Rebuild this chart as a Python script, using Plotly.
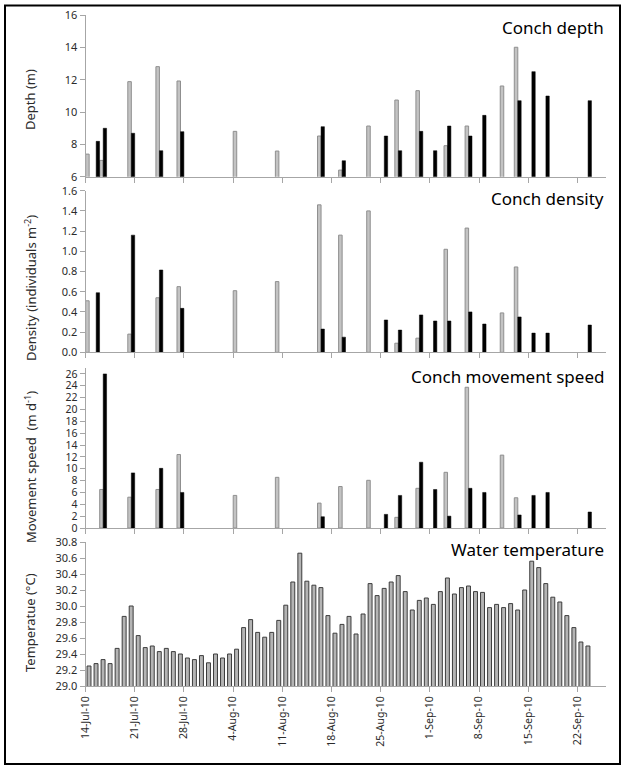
import plotly.graph_objects as go
import pandas as pd

# ---------------- data ----------------
sample_dates = ["2010-07-14", "2010-07-15", "2010-07-16", "2010-07-20", "2010-07-24",
                "2010-07-27", "2010-08-04", "2010-08-10", "2010-08-16", "2010-08-19",
                "2010-08-23", "2010-08-25", "2010-08-27", "2010-08-30", "2010-09-01",
                "2010-09-03", "2010-09-06", "2010-09-08", "2010-09-11", "2010-09-13",
                "2010-09-15", "2010-09-17", "2010-09-23"]

depth_gray = [7.40, None, 7.01, 11.89, 12.82, 11.93, 8.81, 7.59, 8.52, 6.41,
              9.14, None, 10.75, 11.33, None, 7.92, 9.14, None, 11.62, 14.02,
              None, None, None]
depth_black = [None, 8.19, 9.00, 8.69, 7.61, 8.79, None, None, 9.10, 6.99,
               None, 8.52, 7.61, 8.81, 7.61, 9.14, 8.52, 9.80, None, 10.71,
               12.51, 11.00, 10.71]

density_gray = [0.51, None, None, 0.18, 0.54, 0.65, 0.61, 0.70, 1.46, 1.16,
                1.40, None, 0.09, 0.14, None, 1.02, 1.23, None, 0.39, 0.845,
                None, None, None]
density_black = [None, 0.59, None, 1.16, 0.815, 0.435, None, None, 0.23, 0.15,
                 None, 0.32, 0.22, 0.37, 0.31, 0.31, 0.40, 0.28, None, 0.35,
                 0.19, 0.19, 0.27]

speed_gray = [None, None, 6.5, 5.2, 6.5, 12.4, 5.5, 8.55, 4.2, 7.0,
              8.05, None, 1.8, 6.7, None, 9.4, 23.75, None, 12.3, 5.1,
              None, None, None]
speed_black = [None, None, 26.0, 9.3, 10.07, 6.0, None, None, 1.9, None,
               None, 2.3, 5.5, 11.1, 6.5, 2.0, 6.7, 6.0, None, 2.2,
               5.5, 6.0, 2.7]

temp_start = "2010-07-14"
temperature = [29.25, 29.28, 29.33, 29.28, 29.47, 29.87, 30.00, 29.63, 29.48, 29.50,
               29.43, 29.47, 29.43, 29.40, 29.35, 29.33, 29.38, 29.29, 29.40, 29.35,
               29.40, 29.46, 29.73, 29.83, 29.67, 29.61, 29.67, 29.82, 30.01, 30.30,
               30.66, 30.31, 30.26, 30.23, 29.88, 29.66, 29.77, 29.87, 29.65, 29.90,
               30.28, 30.13, 30.22, 30.30, 30.38, 30.18, 29.95, 30.07, 30.10, 30.02,
               30.18, 30.35, 30.15, 30.23, 30.25, 30.18, 30.17, 29.98, 30.02, 29.98,
               30.03, 29.95, 30.20, 30.56, 30.48, 30.28, 30.11, 30.05, 29.88, 29.73,
               29.55, 29.50]
temp_dates = pd.date_range(temp_start, periods=len(temperature), freq="D")

tick_dates = ["2010-07-14", "2010-07-21", "2010-07-28", "2010-08-04", "2010-08-11",
              "2010-08-18", "2010-08-25", "2010-09-01", "2010-09-08", "2010-09-15",
              "2010-09-22"]
tick_labels = ["14-Jul-10", "21-Jul-10", "28-Jul-10", "4-Aug-10", "11-Aug-10",
               "18-Aug-10", "25-Aug-10", "1-Sep-10", "8-Sep-10", "15-Sep-10",
               "22-Sep-10"]

panel_titles = ["Conch depth", "Conch density", "Conch movement speed", "Water temperature"]
y_titles = ["Depth (m)", "Density (individuals m<sup>-2</sup>)",
            "Movement speed  (m d<sup>-1</sup>)", "Temperatue (°C)"]

# ---------------- layout helpers ----------------
W, H = 624, 766
FONT = "Noto Sans"
DAY = 86400000
X_RANGE = ["2010-07-14", "2010-09-26"]
x_dom = [85.5 / W, 605.5 / W]

def ydom(top_px, bot_px):
    return [1 - bot_px / H, 1 - top_px / H]

panels = [
    dict(dom=ydom(15.3, 176.7), rng=[6, 16], tickvals=list(range(6, 17, 2)), fmt="d", fs=11),
    dict(dom=ydom(190.7, 352.3), rng=[0, 1.6], tickvals=[i * 0.2 for i in range(9)], fmt=".1f", fs=11),
    dict(dom=ydom(368, 528), rng=[0, 27], tickvals=list(range(0, 27, 2)), fmt="d", fs=10.5),
    dict(dom=ydom(542, 686), rng=[29.0, 30.8], tickvals=[29.0 + i * 0.2 for i in range(10)], fmt=".1f", fs=11),
]
title_pos = [27, 198, 376, 549]
ytitle_pos = [100, 288, 467, 623]

fig = go.Figure()

GRAY_FILL = "#c3c3c3"
GRAY_LINE = "#8f8f8f"

series = [(depth_gray, depth_black), (density_gray, density_black), (speed_gray, speed_black)]
for i, (g, b) in enumerate(series):
    ax = "" if i == 0 else str(i + 1)
    fig.add_trace(go.Bar(x=sample_dates, y=g, xaxis="x" + ax, yaxis="y" + ax,
                         width=0.5 * DAY, offset=0.02 * DAY,
                         marker=dict(color=GRAY_FILL, line=dict(color=GRAY_LINE, width=1)),
                         showlegend=False))
    fig.add_trace(go.Bar(x=sample_dates, y=b, xaxis="x" + ax, yaxis="y" + ax,
                         width=0.48 * DAY, offset=0.52 * DAY,
                         marker=dict(color="black", line=dict(color="black", width=0.5)),
                         showlegend=False))

fig.add_trace(go.Bar(x=temp_dates, y=temperature, xaxis="x4", yaxis="y4",
                     width=0.56 * DAY, offset=0.22 * DAY,
                     marker=dict(color="#b4b4b4", line=dict(color="#3c3c3c", width=1)),
                     showlegend=False))

layout = dict(width=W, height=H, margin=dict(l=0, r=0, t=0, b=0, autoexpand=False),
              paper_bgcolor="white", plot_bgcolor="white", barmode="overlay",
              font=dict(family=FONT, color="#2b2b2b"), showlegend=False)

for i, p in enumerate(panels):
    ax = "" if i == 0 else str(i + 1)
    last = i == 3
    xa = dict(
        domain=x_dom, type="date", range=X_RANGE, anchor="y" + ax,
        tickvals=tick_dates, showticklabels=last,
        ticks="outside", ticklen=5, tickcolor="#a6a6a6", tickwidth=1,
        showline=True, linecolor="#a6a6a6", linewidth=1, showgrid=False, zeroline=False)
    if i > 0:
        xa["matches"] = "x"
    if last:
        xa.update(ticktext=tick_labels, tickangle=-90,
                  tickfont=dict(size=10.5, family=FONT, color="#2b2b2b"))
    layout["xaxis" + ax] = xa
    layout["yaxis" + ax] = dict(
        domain=p["dom"], range=p["rng"], anchor="x" + ax, tickvals=p["tickvals"],
        tickformat=p["fmt"], tickfont=dict(size=p["fs"], family=FONT, color="#2b2b2b"),
        ticks="outside", ticklen=5, tickcolor="#a6a6a6", tickwidth=1,
        showline=True, linecolor="#a6a6a6", linewidth=1, showgrid=False, zeroline=False)

fig.update_layout(**layout)

annotations = []
for i in range(4):
    annotations.append(dict(text=panel_titles[i], xref="paper", yref="paper",
                            x=606 / W, y=1 - title_pos[i] / H, xanchor="right", yanchor="middle",
                            showarrow=False, font=dict(size=17, family=FONT, color="black")))
    annotations.append(dict(text=y_titles[i], xref="paper", yref="paper",
                            x=30 / W, y=1 - ytitle_pos[i] / H, xanchor="center", yanchor="middle",
                            textangle=-90, showarrow=False,
                            font=dict(size=13, family=FONT, color="#2b2b2b")))
fig.update_layout(annotations=annotations)

fig.add_shape(type="rect", xref="paper", yref="paper",
              x0=5 / W, x1=620 / W, y0=1 - 764 / H, y1=1 - 5.5 / H,
              line=dict(color="black", width=2), fillcolor="rgba(0,0,0,0)")

fig.write_html("out.html", config={"displayModeBar": False},
               post_script="document.body.style.margin='0';document.body.style.overflow='hidden';")
